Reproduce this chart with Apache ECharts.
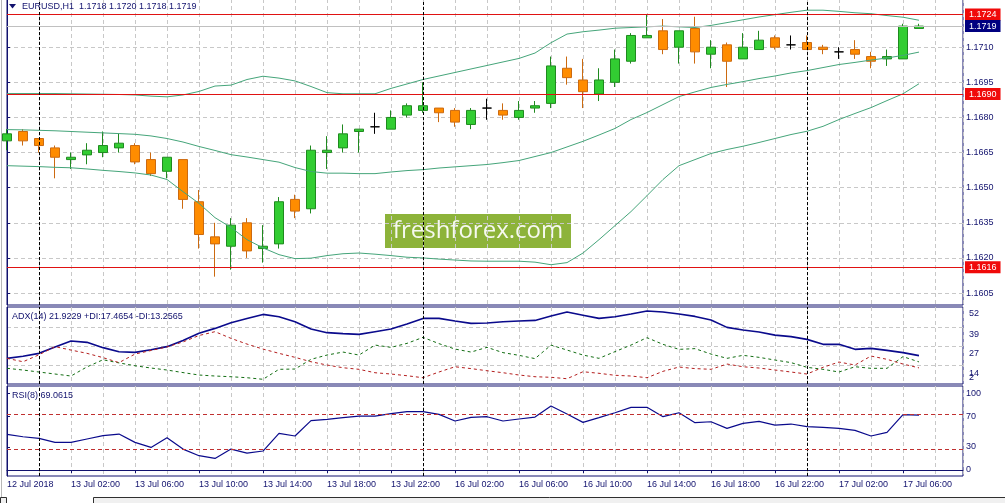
<!DOCTYPE html>
<html>
<head>
<meta charset="utf-8">
<script src="https://cdn.jsdelivr.net/npm/echarts@6/dist/echarts.min.js"></script>
<style>
html,body{margin:0;padding:0;background:#ffffff;}
#chart{width:1005px;height:503px;}
</style>
</head>
<body>
<div id="chart"></div>
<script>
// ---------------- data ----------------
const symbolName = 'EURUSD,H1';

const tickIndex = [0, 4, 8, 12, 16, 20, 24, 28, 32, 36, 40, 44, 48, 52, 56];
const tickText = ['12 Jul 2018', '13 Jul 02:00', '13 Jul 06:00', '13 Jul 10:00', '13 Jul 14:00',
  '13 Jul 18:00', '13 Jul 22:00', '16 Jul 02:00', '16 Jul 06:00', '16 Jul 10:00',
  '16 Jul 14:00', '16 Jul 18:00', '16 Jul 22:00', '17 Jul 02:00', '17 Jul 06:00'];

const priceTicks = [1.1605, 1.1620, 1.1635, 1.1650, 1.1665, 1.1680, 1.1695, 1.1710];
const levelLines = [1.1724, 1.1690, 1.1616];
const bidPrice = 1.1719;
const daySeparators = [2, 26, 50];

const candleOpen = [1.1670, 1.1674, 1.1671, 1.1667, 1.1662, 1.1664, 1.1665, 1.1667, 1.1668, 1.1662,
  1.1657, 1.1662, 1.1644, 1.1629, 1.1625, 1.1635, 1.1624, 1.1626, 1.1645, 1.1641,
  1.1665, 1.1667, 1.1674, 1.1676, 1.1675, 1.1681, 1.1683, 1.1684, 1.1683, 1.1677,
  1.1684, 1.1683, 1.1680, 1.1684, 1.1686, 1.1701, 1.1696, 1.1690, 1.1695, 1.1704,
  1.1714, 1.1717, 1.1710, 1.1718, 1.1707, 1.1711, 1.1705, 1.1709, 1.1714, 1.1711,
  1.1712, 1.1710, 1.1708, 1.1709, 1.1706, 1.1705, 1.1705, 1.1718];
const candleClose = [1.1673, 1.1670, 1.1668, 1.1663, 1.1663, 1.1666, 1.1668, 1.1669, 1.1661, 1.1656,
  1.1663, 1.1645, 1.1630, 1.1626, 1.1634, 1.1623, 1.1625, 1.1644, 1.1640, 1.1666,
  1.1666, 1.1673, 1.1675, 1.1676, 1.1680, 1.1685, 1.1685, 1.1682, 1.1678, 1.1683,
  1.1684, 1.1681, 1.1683, 1.1685, 1.1702, 1.1697, 1.1691, 1.1696, 1.1705, 1.1715,
  1.1715, 1.1709, 1.1717, 1.1708, 1.1710, 1.1704, 1.1710, 1.1713, 1.1710, 1.1711,
  1.1709, 1.1709, 1.1708, 1.1707, 1.1704, 1.1706, 1.1719, 1.1719];
const candleLow = [1.1666, 1.1668, 1.1665, 1.1654, 1.1658, 1.1660, 1.1663, 1.1665, 1.1660, 1.1655,
  1.1654, 1.1641, 1.1624, 1.1612, 1.1615, 1.1620, 1.1618, 1.1624, 1.1637, 1.1639,
  1.1658, 1.1665, 1.1665, 1.1673, 1.1675, 1.1680, 1.1682, 1.1678, 1.1676, 1.1675,
  1.1679, 1.1679, 1.1679, 1.1682, 1.1684, 1.1694, 1.1684, 1.1687, 1.1693, 1.1703,
  1.1714, 1.1707, 1.1703, 1.1703, 1.1701, 1.1693, 1.1705, 1.1709, 1.1709, 1.1709,
  1.1709, 1.1707, 1.1705, 1.1705, 1.1701, 1.1702, 1.1705, 1.1718];
const candleHigh = [1.1675, 1.1675, 1.1671, 1.1668, 1.1665, 1.1669, 1.1674, 1.1673, 1.1669, 1.1665,
  1.1663, 1.1662, 1.1649, 1.1635, 1.1637, 1.1637, 1.1634, 1.1646, 1.1647, 1.1668,
  1.1672, 1.1677, 1.1675, 1.1682, 1.1683, 1.1686, 1.1695, 1.1684, 1.1684, 1.1684,
  1.1688, 1.1686, 1.1687, 1.1687, 1.1706, 1.1706, 1.1705, 1.1701, 1.1709, 1.1716,
  1.1724, 1.1722, 1.1717, 1.1723, 1.1713, 1.1712, 1.1716, 1.1717, 1.1715, 1.1715,
  1.1715, 1.1711, 1.1710, 1.1713, 1.1708, 1.1709, 1.1720, 1.1720];

const bbUpper = [1.16902, 1.16902, 1.16902, 1.16902, 1.16901, 1.16900, 1.16899, 1.16898, 1.16896, 1.16891,
  1.16888, 1.16896, 1.16911, 1.16934, 1.16938, 1.16962, 1.16976, 1.16968, 1.16956, 1.16932,
  1.16906, 1.16901, 1.16901, 1.16901, 1.16924, 1.16943, 1.16962, 1.16977, 1.16992, 1.17007,
  1.17022, 1.17037, 1.17052, 1.17075, 1.17119, 1.17156, 1.17166, 1.17173, 1.17181, 1.17184,
  1.17187, 1.17190, 1.17187, 1.17184, 1.17193, 1.17205, 1.17217, 1.17229, 1.17239, 1.17249,
  1.17258, 1.17258, 1.17253, 1.17247, 1.17243, 1.17235, 1.17228, 1.17215];
const bbMiddle = [1.16748, 1.16747, 1.16745, 1.16743, 1.16740, 1.16737, 1.16734, 1.16731, 1.16728, 1.16721,
  1.16710, 1.16695, 1.16676, 1.16659, 1.16641, 1.16631, 1.16620, 1.16609, 1.16586, 1.16569,
  1.16562, 1.16562, 1.16560, 1.16560, 1.16567, 1.16573, 1.16577, 1.16584, 1.16589, 1.16594,
  1.16599, 1.16607, 1.16616, 1.16633, 1.16650, 1.16674, 1.16698, 1.16725, 1.16753, 1.16791,
  1.16821, 1.16855, 1.16889, 1.16909, 1.16928, 1.16941, 1.16953, 1.16966, 1.16977, 1.16990,
  1.17000, 1.17013, 1.17026, 1.17035, 1.17045, 1.17054, 1.17065, 1.17079];
const bbLower = [1.16594, 1.16592, 1.16590, 1.16587, 1.16585, 1.16580, 1.16574, 1.16569, 1.16563, 1.16554,
  1.16535, 1.16483, 1.16433, 1.16372, 1.16330, 1.16278, 1.16243, 1.16214, 1.16197, 1.16199,
  1.16210, 1.16218, 1.16221, 1.16216, 1.16210, 1.16203, 1.16200, 1.16195, 1.16191, 1.16187,
  1.16186, 1.16186, 1.16186, 1.16182, 1.16171, 1.16180, 1.16221, 1.16278, 1.16338, 1.16398,
  1.16466, 1.16535, 1.16594, 1.16620, 1.16646, 1.16663, 1.16677, 1.16693, 1.16710, 1.16727,
  1.16741, 1.16762, 1.16791, 1.16817, 1.16842, 1.16872, 1.16901, 1.16944];

const adxMain = [20.0, 21.5, 23.5, 28.0, 32.2, 31.2, 27.5, 24.6, 24.2, 26.0,
  28.2, 32.5, 37.6, 41.0, 45.0, 48.0, 50.8, 49.2, 45.7, 40.6,
  38.0, 37.3, 36.8, 38.7, 40.6, 44.1, 48.0, 48.0, 46.2, 44.5,
  44.8, 45.7, 46.2, 46.6, 49.7, 52.5, 50.2, 48.0, 49.2, 51.1,
  53.2, 52.5, 51.1, 49.4, 46.9, 41.7, 39.9, 38.5, 36.3, 35.2,
  33.3, 29.8, 29.8, 26.3, 27.0, 25.6, 24.0, 21.9];
const adxPlusDI = [13.0, 11.8, 10.4, 9.0, 7.6, 14.0, 19.0, 16.8, 14.8, 13.2,
  11.8, 10.0, 8.3, 7.6, 7.1, 6.4, 5.3, 12.3, 12.5, 19.3,
  22.3, 24.4, 22.3, 29.3, 27.7, 30.5, 34.7, 30.3, 26.5, 24.4,
  27.7, 24.0, 22.1, 19.8, 29.3, 25.8, 22.3, 20.0, 24.7, 29.3,
  34.5, 29.8, 26.3, 26.8, 23.0, 20.0, 22.1, 20.7, 18.8, 17.0,
  13.7, 12.3, 10.4, 14.1, 13.0, 13.0, 21.2, 17.5];
const adxMinusDI = [20.0, 17.6, 22.5, 28.2, 25.8, 23.5, 20.5, 17.0, 23.0, 25.5,
  28.0, 31.5, 36.0, 38.7, 34.0, 30.0, 26.5, 23.5, 20.7, 17.6,
  15.3, 13.4, 12.3, 9.9, 9.0, 7.8, 6.4, 10.4, 14.1, 12.8,
  11.3, 9.9, 8.3, 7.1, 6.7, 5.7, 10.6, 9.5, 8.1, 7.6,
  6.4, 10.9, 13.9, 12.8, 12.3, 16.0, 14.1, 13.2, 11.8, 10.4,
  9.0, 13.7, 17.4, 15.3, 21.6, 19.3, 16.0, 13.3];
const adxTicks = [52, 39, 27, 14];

const rsiValues = [47.2, 44.5, 42.6, 38.1, 38.1, 41.9, 45.7, 47.5, 38.1, 32.4,
  43.4, 30.5, 23.0, 19.9, 30.5, 26.0, 28.3, 48.3, 45.3, 62.7,
  64.2, 66.1, 67.9, 67.9, 70.6, 72.9, 72.9, 69.8, 62.3, 66.4,
  67.2, 62.3, 64.6, 66.8, 79.3, 70.2, 60.8, 66.1, 71.7, 77.8,
  77.8, 67.2, 71.7, 60.4, 61.5, 54.0, 59.6, 61.9, 57.7, 58.9,
  55.9, 55.1, 54.0, 51.7, 45.3, 49.4, 69.5, 69.1];
const rsiLevels = [70, 30];
const rsiTicks = [100, 70, 30, 0];

const adxTitle = 'ADX(14) 21.9229 +DI:17.4654 -DI:13.2565';
const rsiTitle = 'RSI(8) 69.0615';

// ---------------- style ----------------
const FONT = '"Liberation Sans", Arial, sans-serif';
const NAVY = '#12126E';
const GRIDC = '#C8C8C8';
const GREEN = '#32CD32', GREEN_B = '#1F8A1F';
const ORANGE = '#FF8C00', ORANGE_B = '#CC6A10';
const BB = '#45A57A';
const RED = '#E01212';

const n = candleOpen.length;
const last = n - 1;
const candleData = candleOpen.map((o, i) => [i, o, candleClose[i], candleLow[i], candleHigh[i]]);
const toXY = arr => arr.map((v, i) => [i, v]);
const headerText = symbolName + '  ' + [candleOpen[last], candleHigh[last], candleLow[last], candleClose[last]]
  .map(v => v.toFixed(4)).join(' ');

function dataX(gridIndex) {
  return {
    type: 'value', gridIndex, min: 0, max: 59.75, interval: 2,
    axisLine: { show: false }, axisTick: { show: false }, axisLabel: { show: false },
    splitLine: { show: true, lineStyle: { color: GRIDC, type: [4, 3], width: 1 } }
  };
}
const SEP_STYLE = { color: '#000', type: [3, 2], width: 1 };
const sepLines = () => daySeparators.map(x => ({ xAxis: x, lineStyle: SEP_STYLE, label: { show: false } }));
const gridBase = { left: 7, right: 42, show: true, borderColor: NAVY, borderWidth: 1, outerBoundsMode: 'none', containLabel: false };

const boxLabel = (bg, txt) => ({
  show: true, position: 'end', distance: 2, color: '#fff', fontSize: 9, fontFamily: FONT,
  backgroundColor: bg, padding: [2, 4, 1, 4], formatter: txt
});

const mainMarks = levelLines.map(v => ({ yAxis: v, lineStyle: { color: RED, type: 'solid', width: 1 }, label: boxLabel('#F00A0A', v.toFixed(4)) }))
  .concat([{ yAxis: bidPrice, lineStyle: { color: '#C0C0C0', type: 'solid', width: 1 }, label: boxLabel('#000080', bidPrice.toFixed(4)) }])
  .concat(sepLines());

const option = {
  animation: false,
  backgroundColor: '#ffffff',
  textStyle: { fontFamily: FONT },
  title: [
    { text: headerText, left: 22, top: 2, padding: 0, textStyle: { fontSize: 9, fontWeight: 'normal', color: NAVY, fontFamily: FONT } },
    { text: adxTitle, left: 12, top: 312, padding: 0, textStyle: { fontSize: 9, fontWeight: 'normal', color: NAVY, fontFamily: FONT } },
    { text: rsiTitle, left: 12, top: 391, padding: 0, textStyle: { fontSize: 9, fontWeight: 'normal', color: NAVY, fontFamily: FONT } }
  ],
  grid: [
    Object.assign({ top: -1, height: 306 }, gridBase),
    Object.assign({ top: 307, height: 77 }, gridBase),
    Object.assign({ top: 386, height: 90 }, gridBase)
  ],
  xAxis: [
    dataX(0), dataX(1), dataX(2),
    {
      type: 'value', gridIndex: 2, position: 'bottom', min: 0, max: 59.75,
      axisLine: { show: true, lineStyle: { color: NAVY } },
      axisTick: { show: true, length: 3, customValues: tickIndex, lineStyle: { color: NAVY } },
      axisLabel: {
        customValues: tickIndex, align: 'left', margin: 4, fontSize: 9, color: NAVY, fontFamily: FONT,
        formatter: v => { const k = tickIndex.indexOf(v); return k >= 0 ? tickText[k] : ''; }
      },
      splitLine: { show: false }
    }
  ],
  yAxis: [
    {
      type: 'value', gridIndex: 0, position: 'right', min: 1.15999, max: 1.173058,
      axisLine: { show: true, lineStyle: { color: NAVY } },
      axisTick: { show: true, length: 3, customValues: priceTicks, lineStyle: { color: NAVY } },
      axisLabel: { customValues: priceTicks, margin: 3, fontSize: 9, color: NAVY, fontFamily: FONT, formatter: v => v.toFixed(4) },
      splitLine: { show: true, lineStyle: { color: GRIDC, type: [4, 3], width: 1 } }
    },
    {
      type: 'value', gridIndex: 1, position: 'right', min: 2, max: 56,
      axisLine: { show: true, lineStyle: { color: NAVY } },
      axisTick: { show: false, customValues: [14.8, 28.2, 41.5] },
      axisLabel: { show: false },
      splitLine: { show: true, lineStyle: { color: GRIDC, type: [4, 3], width: 1 } }
    },
    {
      type: 'value', gridIndex: 1, position: 'right', min: 7.67, max: 56.43,
      axisLine: { show: false },
      axisTick: { show: false, customValues: adxTicks },
      axisLabel: { customValues: adxTicks, margin: 6, fontSize: 9, color: NAVY, fontFamily: FONT },
      splitLine: { show: false }
    },
    {
      type: 'value', gridIndex: 2, position: 'right', min: 0, max: 102,
      axisLine: { show: true, lineStyle: { color: NAVY } },
      axisTick: { show: false }, axisLabel: { show: false }, splitLine: { show: false }
    },
    {
      type: 'value', gridIndex: 2, position: 'right', min: -7.8, max: 109.5,
      axisLine: { show: false },
      axisTick: { show: true, length: 3, customValues: rsiTicks, lineStyle: { color: NAVY } },
      axisLabel: { customValues: rsiTicks, margin: 3, fontSize: 9, color: NAVY, fontFamily: FONT },
      splitLine: { show: false }
    }
  ],
  graphic: [
    { type: 'polygon', shape: { points: [[9, 4], [16, 4], [12.5, 8.5]] }, style: { fill: NAVY }, z: 50 },
    { type: 'text', left: 969, top: 373, style: { text: '2', fill: NAVY, fontSize: 9, fontFamily: FONT }, z: 50 },
    { type: 'line', shape: { x1: 1.5, y1: 0, x2: 1.5, y2: 497 }, style: { stroke: '#B8B8B8', lineWidth: 1 } },
    { type: 'rect', shape: { x: 93.5, y: 497.5, width: 912, height: 8 }, style: { fill: '#F0F0F0', stroke: '#303030', lineWidth: 1 } },
    { type: 'rect', shape: { x: 0.5, y: 497.5, width: 6, height: 8 }, style: { fill: '#F0F0F0', stroke: '#303030', lineWidth: 1 } },
    {
      type: 'group', left: 385, top: 214, z: 100, children: [
        { type: 'rect', shape: { x: 0, y: 0, width: 186, height: 34 }, style: { fill: '#8DB33A' } },
        { type: 'text', x: 93, y: 17, style: { text: 'freshforex.com', fill: '#F6F9EF', fontSize: 24, fontFamily: '"Open Sans", sans-serif', align: 'center', verticalAlign: 'middle' } }
      ]
    }
  ],
  series: [
    {
      type: 'candlestick', name: 'EURUSD', xAxisIndex: 0, yAxisIndex: 0, barWidth: 10, clip: true,
      data: candleData,
      itemStyle: { color: GREEN, color0: ORANGE, borderColor: GREEN_B, borderColor0: ORANGE_B, borderColorDoji: '#000000', borderWidth: 1 }
    },
    { type: 'line', name: 'BB upper', xAxisIndex: 0, yAxisIndex: 0, data: toXY(bbUpper), symbol: 'none', lineStyle: { color: BB, width: 1 } },
    {
      type: 'line', name: 'BB middle', xAxisIndex: 0, yAxisIndex: 0, data: toXY(bbMiddle), symbol: 'none', lineStyle: { color: BB, width: 1 },
      markLine: { silent: true, symbol: ['none', 'none'], animation: false, precision: 5, z: 5, data: mainMarks }
    },
    { type: 'line', name: 'BB lower', xAxisIndex: 0, yAxisIndex: 0, data: toXY(bbLower), symbol: 'none', lineStyle: { color: BB, width: 1 } },
    {
      type: 'line', name: 'ADX', xAxisIndex: 1, yAxisIndex: 1, data: toXY(adxMain), symbol: 'none', lineStyle: { color: '#0A0A8C', width: 1.6 },
      markLine: { silent: true, symbol: ['none', 'none'], animation: false, data: sepLines() }
    },
    { type: 'line', name: '+DI', xAxisIndex: 1, yAxisIndex: 1, data: toXY(adxPlusDI), symbol: 'none', lineStyle: { color: '#136E13', width: 1, type: [3, 3] } },
    { type: 'line', name: '-DI', xAxisIndex: 1, yAxisIndex: 1, data: toXY(adxMinusDI), symbol: 'none', lineStyle: { color: '#B41E1E', width: 1, type: [3, 3] } },
    {
      type: 'line', name: 'RSI', xAxisIndex: 2, yAxisIndex: 3, data: toXY(rsiValues), symbol: 'none', lineStyle: { color: '#0A0A8C', width: 1.2 },
      markLine: {
        silent: true, symbol: ['none', 'none'], animation: false,
        data: sepLines().concat(rsiLevels.map(v => ({ yAxis: v, lineStyle: { color: '#C03030', type: [4, 3], width: 1 }, label: { show: false } })))
      }
    }
  ]
};

const chart = echarts.init(document.getElementById('chart'), null, { renderer: 'canvas' });
chart.setOption(option);
</script>
</body>
</html>
